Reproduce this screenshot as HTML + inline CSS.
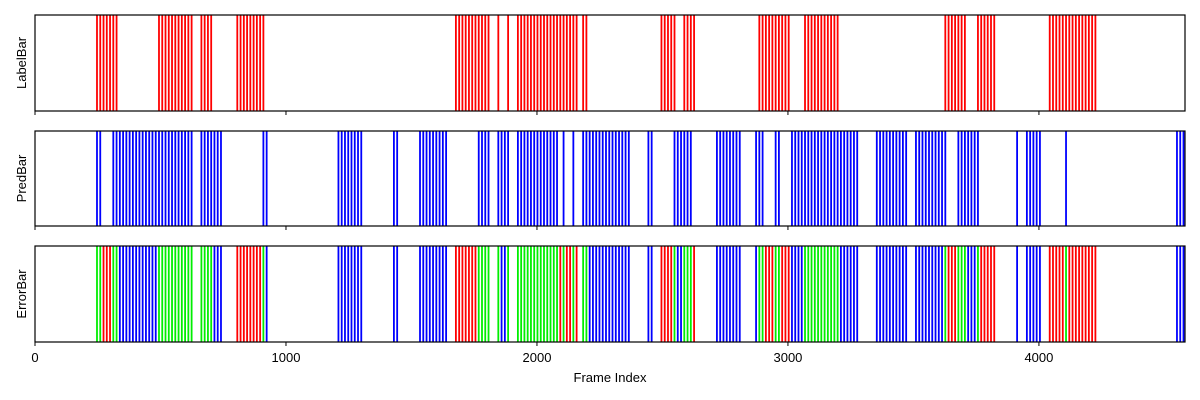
<!DOCTYPE html>
<html><head><meta charset="utf-8"><style>
body{margin:0;background:#fff}
svg{display:block;font-family:"Liberation Sans","DejaVu Sans",sans-serif}
</style></head><body>
<svg id="chart" width="1200" height="400" viewBox="0 0 1200 400"></svg>
<script>
const xTicks=[0,1000,2000,3000,4000];
const xMax=4582;
const panelNames=["LabelBar","PredBar","ErrorBar"];
const labelIntervals=[[247,331],[482,629],[661,709],[797,916],[1677,1809],[1845,1853],[1880,1892],[1916,2159],[2179,2203],[2494,2558],[2578,2637],[2884,3004],[3068,3199],[3622,3717],[3753,3825],[4032,4235]];
const predIntervals=[[247,271],[311,629],[661,741],[904,924],[1199,1311],[1430,1446],[1534,1649],[1761,1813],[1845,1892],[1912,2088],[2104,2108],[2143,2155],[2179,2378],[2438,2466],[2542,2625],[2713,2809],[2872,2900],[2944,2964],[3008,3279],[3351,3474],[3498,3637],[3677,3761],[3904,3920],[3948,4016],[4096,4112],[4550,4582]];
const step=13;
const NS="http://www.w3.org/2000/svg";
const svg=document.getElementById('chart');
const L=35,R=1185;
const panels=[[15,111],[131,226],[246,342]];
const x=f=>L+(f/xMax)*(R-L);
function inAny(f,arr){return arr.some(a=>f>=a[0]&&f<=a[1]);}
function mk(t,a){const e=document.createElementNS(NS,t);for(const k in a)e.setAttribute(k,a[k]);svg.appendChild(e);return e;}
function frames(arr){const s=new Set();arr.forEach(a=>{for(let f=Math.ceil(a[0]/step)*step;f<=a[1];f+=step)s.add(f);});return s;}
const lf=frames(labelIntervals), pf=frames(predIntervals);
const all=new Set([...lf,...pf]);
panels.forEach((p,i)=>{
  const [t,b]=p;
  let g=document.createElementNS(NS,'g');svg.appendChild(g);
  
  
  let list=[];
  if(i===0) lf.forEach(f=>list.push([f,'#ff0000']));
  else if(i===1) pf.forEach(f=>list.push([f,'#0000ff']));
  else all.forEach(f=>{const l=inAny(f,labelIntervals),pr=inAny(f,predIntervals);list.push([f,l&&pr?'#00ee00':(l?'#ff0000':'#0000ff')]);});
  list.forEach(([f,c])=>{
    const ln=document.createElementNS(NS,'line');
    ln.setAttribute('x1',x(f));ln.setAttribute('x2',x(f));ln.setAttribute('y1',t);ln.setAttribute('y2',b);
    ln.setAttribute('stroke',c);ln.setAttribute('stroke-width','1.8');
    
    
    g.appendChild(ln);
  });
  const fr=mk('rect',{x:L,y:t,width:R-L,height:b-t,fill:'none',stroke:'#000','stroke-width':1.2});
  
  
  xTicks.forEach(v=>{const tk=mk('line',{x1:x(v),x2:x(v),y1:b,y2:b+4,stroke:'#000','stroke-width':1});
    
    
    if(i===2){const tl=mk('text',{x:x(v),y:b+20,'text-anchor':'middle','font-size':13});tl.textContent=v;
      
      }
  });
  const yl=mk('text',{x:0,y:0,'text-anchor':'middle','font-size':13,transform:`translate(26,${(t+b)/2}) rotate(-90)`});
  yl.textContent=panelNames[i];
  
  
});
const xt=mk('text',{x:(L+R)/2,y:382,'text-anchor':'middle','font-size':13});
xt.textContent='Frame Index';


</script>
</body></html>
